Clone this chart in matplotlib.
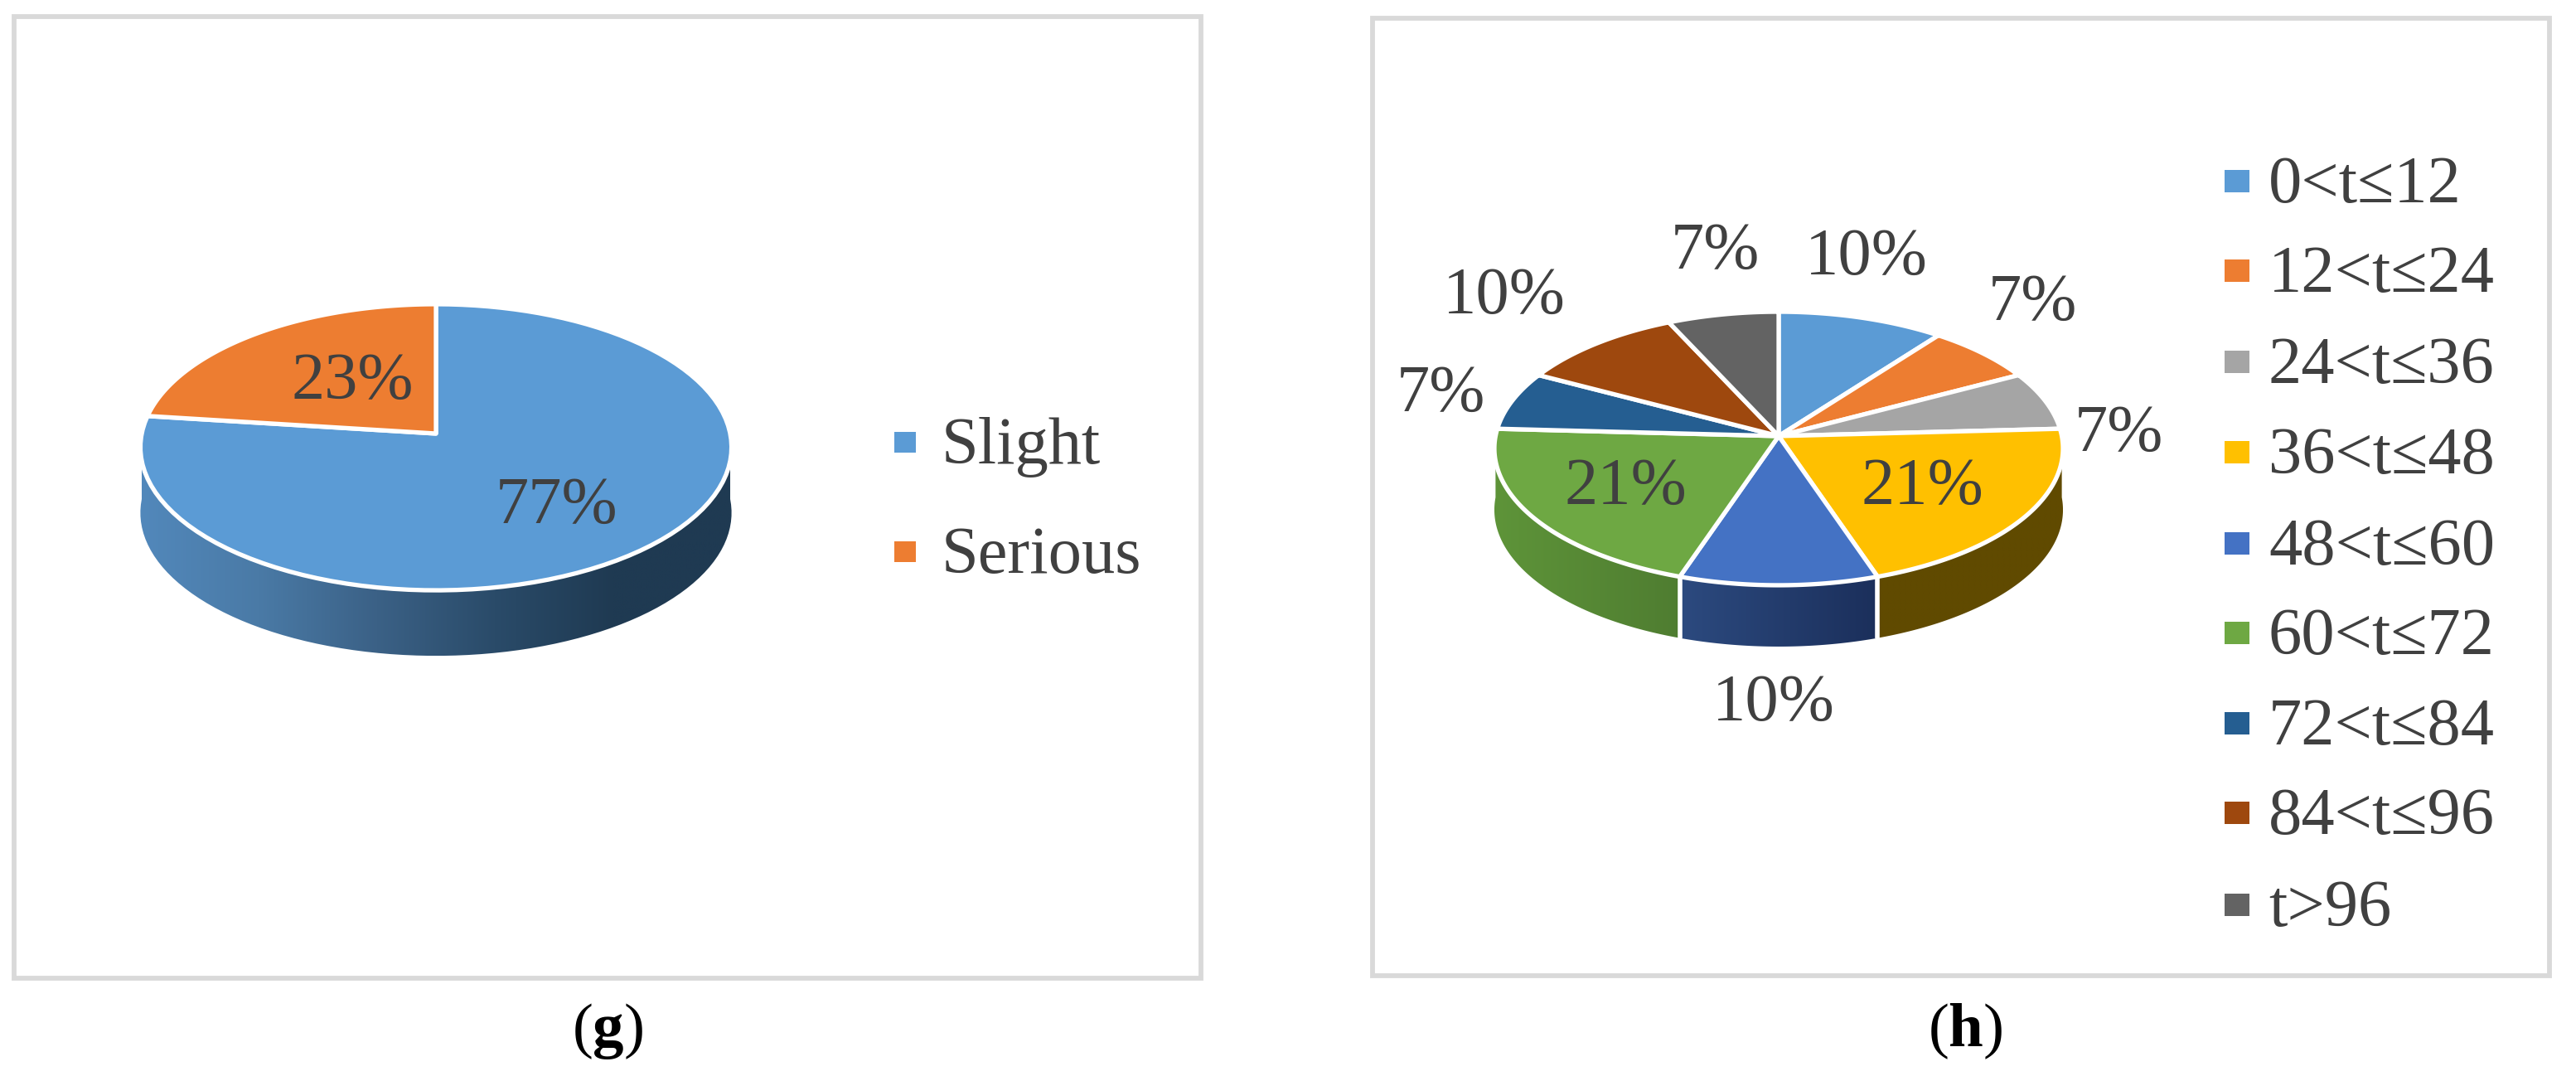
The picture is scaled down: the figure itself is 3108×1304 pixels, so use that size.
import numpy as np
import matplotlib
matplotlib.use('Agg')
import matplotlib.pyplot as plt
from matplotlib.colors import LinearSegmentedColormap
from matplotlib.patches import Polygon, Rectangle

plt.rcParams['font.family'] = ['Liberation Serif', 'DejaVu Sans']
plt.rcParams['mathtext.fontset'] = 'custom'
plt.rcParams['mathtext.bf'] = 'Liberation Serif:bold'
plt.rcParams['mathtext.rm'] = 'Liberation Serif'

# data
g_labels = ['Slight', 'Serious']
g_values = [77, 23]
h_labels = ['0<t≤12', '12<t≤24', '24<t≤36', '36<t≤48', '48<t≤60',
            '60<t≤72', '72<t≤84', '84<t≤96', 't>96']
h_values = [3, 2, 2, 6, 3, 6, 2, 3, 2]

# colours
g_colors = ['#5b9bd5', '#ed7d31']
h_colors = ['#5b9bd5', '#ed7d31', '#a5a5a5', '#ffc000', '#4472c4',
            '#6ea843', '#255e91', '#9e480e', '#636363']
g_side = ['#5288bb', '#4a7aa6', '#3b6186', '#2a4b69', '#1f3a52', '#1f3a52']
h_side = {3: ['#604a00', '#604a00'],
          4: ['#2c4a7f', '#1b2f5b'],
          5: ['#5e9439', '#4f7d31']}

TEXT = '#404040'
BOX = '#d9d9d9'
FS = 58

fig = plt.figure(figsize=(31.08, 13.04), dpi=100)
ax = fig.add_axes([0, 0, 1, 1])


def project(theta, pie):
    # tilted disc with some perspective, theta clockwise from top in degrees
    t = np.radians(theta)
    u, v = np.sin(t), np.cos(t)
    d = 1 + pie['k'] * v
    return pie['cx'] + pie['X'] * u / d, pie['cy'] - pie['Y'] * v / d


def draw_pie(values, colors, sides, pie):
    edges = np.cumsum([0] + list(values)) / sum(values) * 360
    # side walls
    for i in range(len(values)):
        a, b = max(edges[i], 90), min(edges[i + 1], 270)
        if a >= b or i not in sides:
            continue
        x, y = project(np.linspace(a, b, 80), pie)
        pts = np.r_[np.c_[x, y], np.c_[x, y + pie['depth']][::-1]]
        poly = Polygon(pts, closed=True, fc='none', ec='none')
        ax.add_patch(poly)
        cm = LinearSegmentedColormap.from_list('s', sides[i])
        im = ax.imshow(np.linspace(0, 1, 256)[None, :], cmap=cm, aspect='auto',
                       extent=(x.min(), x.max(), y.max() + pie['depth'], y.min()),
                       zorder=1, vmin=0, vmax=1)
        im.set_clip_path(poly)
    for e in edges:
        if 90 < e < 270:
            x, y = project(e, pie)
            ax.plot([x, x], [y, y + pie['depth']], color='white', lw=4, zorder=2,
                    solid_capstyle='butt')
    # top face
    for i in range(len(values)):
        x, y = project(np.linspace(edges[i], edges[i + 1], 100), pie)
        pts = np.r_[[[pie['cx'], pie['cy']]], np.c_[x, y]]
        ax.add_patch(Polygon(pts, closed=True, fc=colors[i], ec='white', lw=3.8,
                             joinstyle='round', zorder=3))


def pct_labels(values, places):
    for v, (x, y) in zip(values, places):
        ax.text(x, y, f'{v / sum(values):.0%}', color=TEXT, fontsize=FS,
                ha='center', va='center', zorder=5)


def draw_legend(labels, colors, x, ys, w, h, text_x):
    for lab, c, y in zip(labels, colors, ys):
        ax.add_patch(Rectangle((x, y - h / 2), w, h, fc=c, ec='none'))
        ax.text(text_x, y + 26, lab, color=TEXT, fontsize=FS, ha='left', va='baseline')


# panel frames
ax.add_patch(Rectangle((17, 20), 1432, 1160, fc='white', ec=BOX, lw=4.2))
ax.add_patch(Rectangle((1656, 22), 1420, 1155, fc='white', ec=BOX, lw=4.2))

pie_g = dict(cx=526, cy=523, X=355, Y=171, k=0.0957, depth=79)
pie_h = dict(cx=2146, cy=526, X=341.6, Y=163.6, k=0.0909, depth=74)

draw_pie(g_values, g_colors, {0: g_side}, pie_g)
draw_pie(h_values, h_colors, h_side, pie_h)

pct_labels(g_values, [(672, 611), (425, 461)])
pct_labels(h_values, [(2252, 311), (2452, 366), (2556, 524), (2319, 588), (2140, 849),
                      (1961, 588), (1738, 476), (1815, 358), (2069, 304)])

draw_legend(g_labels, g_colors, 1079, [533, 665], 26, 25, 1136)
draw_legend(h_labels, h_colors, 2684, [218, 326, 436, 545, 655, 763, 872, 980, 1091],
            30, 27, 2737)

# captions
ax.text(733, 1262, r'($\mathbf{g}$)', color='black', fontsize=54, ha='center', va='baseline')
ax.text(2371, 1262, r'($\mathbf{h}$)', color='black', fontsize=54, ha='center', va='baseline')

ax.set_xlim(0, 3108)
ax.set_ylim(1304, 0)
ax.axis('off')
fig.savefig('out.png', dpi=100, facecolor='white')
